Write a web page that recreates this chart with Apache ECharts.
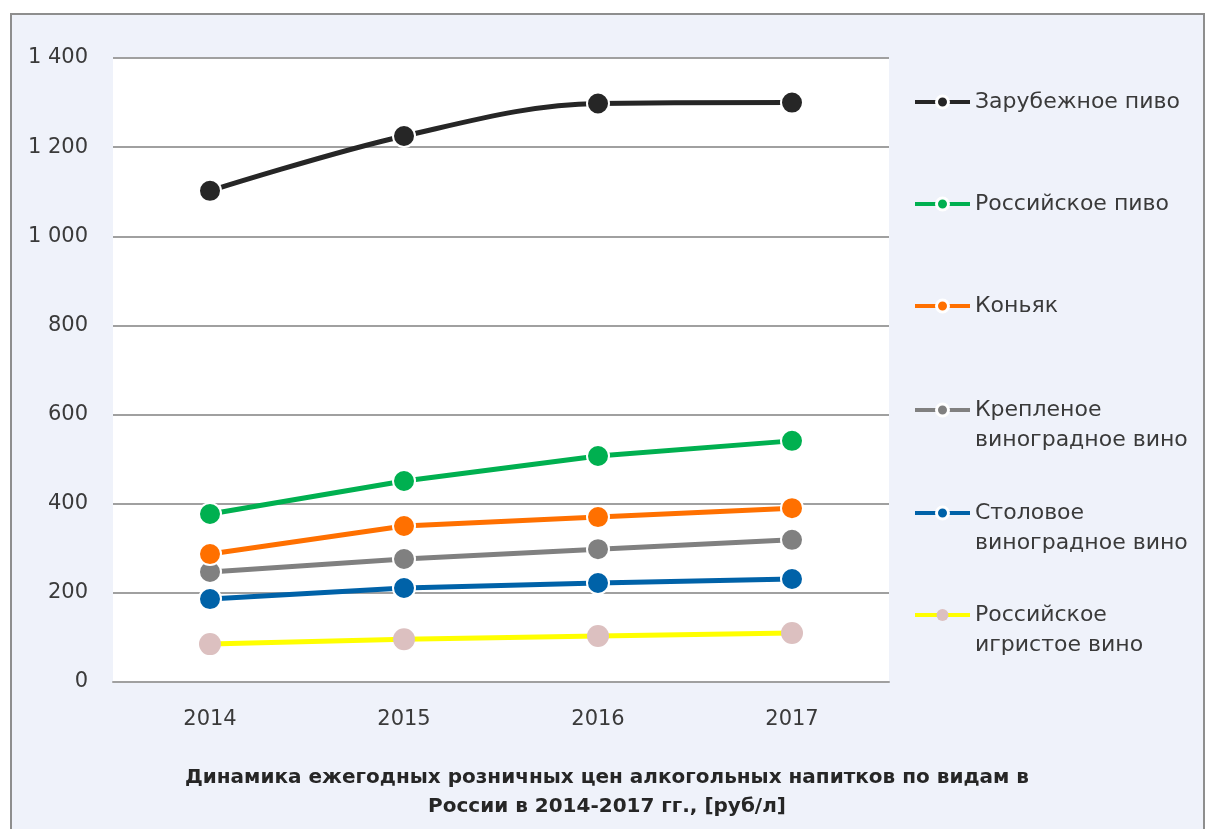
<!DOCTYPE html>
<html>
<head>
<meta charset="utf-8">
<script src="https://cdn.jsdelivr.net/npm/echarts@6/dist/echarts.min.js"></script>
<style>
  html, body { margin: 0; padding: 0; background: #fff; }
  .frame {
    position: absolute; left: 10px; top: 13px; width: 1191px; height: 830px;
    border: 2px solid #8e8e8e; background: #eff2fa;
  }
  #chart { position: absolute; left: 0; top: 0; width: 1205px; height: 829px; }
</style>
</head>
<body>
<div class="frame"></div>
<div id="chart"></div>
<script>
const years = ['2014', '2015', '2016', '2017']
const yTicks = [0, 200, 400, 600, 800, 1000, 1200, 1400]

const names = [
  'Зарубежное пиво',
  'Российское пиво',
  'Коньяк',
  'Крепленое\nвиноградное вино',
  'Столовое\nвиноградное вино',
  'Российское\nигристое вино'
]
const foreignBeer = [1102, 1225, 1298, 1300]
const russianBeer = [377, 451, 507, 541]
const cognac = [287, 350, 370, 390]
const fortifiedWine = [247, 276, 298, 319]
const tableWine = [186, 211, 222, 231]
const sparklingWine = [85, 96, 103, 110]

const lineColors = ['#262626', '#00b050', '#ff7000', '#808080', '#0062a8', '#ffff00']
const markerColors = ['#262626', '#00b050', '#ff7000', '#808080', '#0062a8', '#dcc0c0']
const values = [foreignBeer, russianBeer, cognac, fortifiedWine, tableWine, sparklingWine]
// y of the legend icon for each item
const legendY = [102, 204, 306, 410, 513, 615]

const font = 'DejaVu Sans'
const lh = 30
const chart = echarts.init(document.getElementById('chart'))

const series = values.map((data, i) => ({
  name: names[i],
  type: 'line',
  data: data,
  smooth: i === 0 ? 0.35 : false,
  symbol: 'circle',
  symbolSize: 22,
  lineStyle: { color: lineColors[i], width: 5 },
  itemStyle: {
    color: markerColors[i],
    borderColor: '#fff',
    borderWidth: i === 5 ? 0 : 2
  },
  z: 10 - i
}))

// one legend per series; a leading empty line keeps the icon on the first text line
const legends = names.map((n, i) => {
  const multi = n.indexOf('\n') >= 0
  return {
    data: [n],
    left: 913,
    top: legendY[i] - (multi ? lh * 1.5 : lh / 2),
    padding: 0,
    itemWidth: 55,
    itemHeight: 15,
    itemGap: 0,
    formatter: name => (multi ? '\n' : '') + name,
    textStyle: { fontFamily: font, fontSize: 22, color: '#3a3a3a', lineHeight: lh },
    lineStyle: { width: 4 },
    itemStyle: i === 5 ? { borderWidth: 0 } : { borderWidth: 3, borderColor: '#fff' }
  }
})

chart.setOption({
  animation: false,
  textStyle: { fontFamily: font },
  title: {
    text: 'Динамика ежегодных розничных цен алкогольных напитков по видам в\nРоссии в 2014-2017 гг., [руб/л]',
    left: 607,
    top: 763,
    padding: 0,
    textAlign: 'center',
    textStyle: { fontFamily: font, fontWeight: 'bold', fontSize: 20, lineHeight: 29, color: '#262626' }
  },
  legend: legends,
  grid: {
    left: 113, right: 316, top: 58, bottom: 147,
    show: true, backgroundColor: '#fff', borderWidth: 0
  },
  xAxis: {
    type: 'category',
    data: years,
    boundaryGap: true,
    axisLine: { lineStyle: { color: '#a0a0a0', width: 2 } },
    axisTick: { show: false },
    axisLabel: { fontFamily: font, fontSize: 21, color: '#3a3a3a', margin: 27 }
  },
  yAxis: {
    type: 'value',
    min: yTicks[0],
    max: yTicks[yTicks.length - 1],
    interval: 200,
    axisLine: { show: false },
    axisTick: { show: false },
    splitLine: { lineStyle: { color: '#a0a0a0', width: 2 } },
    axisLabel: {
      fontFamily: font, fontSize: 21, color: '#3a3a3a', margin: 25,
      formatter: v => String(v).replace(/\B(?=(\d{3})+(?!\d))/g, ' ')
    }
  },
  series: series
})
</script>
</body>
</html>
